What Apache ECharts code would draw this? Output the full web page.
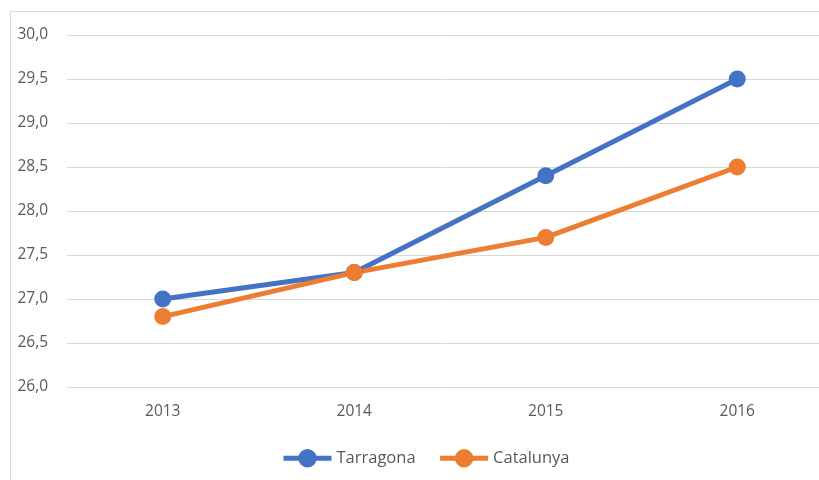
<!DOCTYPE html>
<html>
<head>
<meta charset="utf-8">
<script src="https://cdn.jsdelivr.net/npm/echarts@6/dist/echarts.min.js"></script>
<style>
  html, body { margin: 0; padding: 0; background: #fff; }
  #chart { width: 819px; height: 480px; }
</style>
</head>
<body>
<div id="chart"></div>
<script>
// dades del gràfic
const years = ['2013', '2014', '2015', '2016'];
const tarragona = [27.0, 27.3, 28.4, 29.5];
const catalunya = [26.8, 27.3, 27.7, 28.5];

const fontName = '"Open Sans", "Liberation Sans", sans-serif';
const labelColor = '#595959';

const chart = echarts.init(document.getElementById('chart'));
chart.setOption({
    animation: false,
    textStyle: { fontFamily: fontName },
    graphic: [{
        type: 'rect',
        shape: { x: 10.5, y: 11.5, width: 900, height: 600 },
        style: { fill: 'none', stroke: '#d9d9d9', lineWidth: 1 },
        silent: true
    }],
    grid: {
        left: 67, right: -14, top: 35, bottom: 93,
        containLabel: false,
        outerBoundsMode: 'none'
    },
    legend: {
        top: 444,
        left: 276,
        itemWidth: 48,
        itemHeight: 23,
        itemGap: 22,
        lineStyle: { width: 5 },
        textStyle: { color: labelColor, fontSize: 16.5, fontFamily: fontName },
        data: ['Tarragona', 'Catalunya']
    },
    xAxis: {
        type: 'category',
        data: years,
        boundaryGap: true,
        axisLine: { show: false },
        axisTick: { show: false },
        axisLabel: { color: labelColor, fontSize: 15.5, margin: 17 }
    },
    yAxis: {
        type: 'value',
        min: 26,
        max: 30,
        interval: 0.5,
        axisLine: { show: false },
        axisTick: { show: false },
        splitLine: { lineStyle: { color: '#d9d9d9', width: 1 } },
        axisLabel: {
            color: labelColor,
            fontSize: 15.5,
            margin: 19,
            formatter: v => v.toFixed(1).replace('.', ',')
        }
    },
    series: [
        {
            name: 'Tarragona',
            type: 'line',
            data: tarragona,
            symbol: 'circle',
            symbolSize: 17,
            lineStyle: { color: '#4472C4', width: 5 },
            itemStyle: { color: '#4472C4' }
        },
        {
            name: 'Catalunya',
            type: 'line',
            data: catalunya,
            symbol: 'circle',
            symbolSize: 17,
            lineStyle: { color: '#ED7D31', width: 5 },
            itemStyle: { color: '#ED7D31' }
        }
    ]
});
</script>
</body>
</html>
